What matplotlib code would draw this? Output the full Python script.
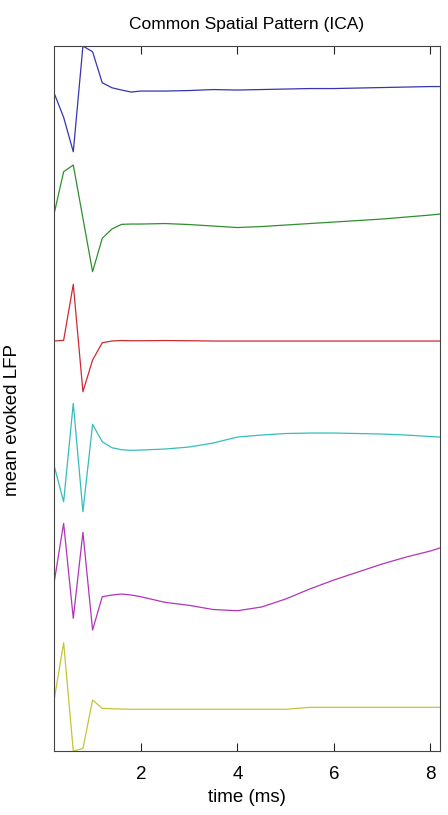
import numpy as np
import matplotlib
matplotlib.use("Agg")
import matplotlib.pyplot as plt

plt.rcParams["font.family"] = ["Liberation Sans", "DejaVu Sans"]

# sample times (ms)
time_ms = [0.2, 0.4, 0.6, 0.8, 1.0, 1.2, 1.4, 1.6, 1.8, 2.0,
           2.5, 3.0, 3.5, 4.0, 4.5, 5.0, 5.5, 6.0, 6.5, 7.0, 7.5, 8.0, 8.2]

# mean evoked LFP of each ICA component (a.u.)
comp_1 = [-2.7, -27.3, -61.7, 44.0, 38.3, 7.3, 2.3, 0.0, -2.0, -1.0,
          -1.0, -0.5, 0.5, 0.0, 0.5, 1.0, 1.5, 1.5, 2.0, 2.5, 3.0, 3.5, 3.5]
comp_2 = [9.7, 52.3, 59.0, 5.7, -47.7, -14.3, -5.0, -0.3, 0.0, 0.0,
          0.5, -0.5, -2.0, -3.5, -2.5, -1.0, 0.5, 2.0, 3.5, 5.0, 7.0, 9.0, 10.0]
comp_3 = [0.0, 0.7, 56.7, -50.7, -19.0, -1.7, 0.0, 0.5, 0.3, 0.3,
          0.5, 0.3, 0.0, 0.0, 0.0, 0.0, 0.0, 0.0, 0.0, 0.0, 0.0, 0.0, 0.0]
comp_4 = [-15.0, -51.7, 46.7, -61.7, 25.7, 8.3, 2.3, 0.3, -0.3, 0.0,
          1.0, 3.0, 7.0, 13.0, 15.0, 16.5, 17.0, 17.0, 16.5, 16.0, 15.0, 13.5, 13.0]
comp_5 = [13.7, 73.7, -21.3, 64.7, -33.0, 0.3, 2.0, 3.0, 2.0, 0.3,
          -5.3, -8.3, -12.5, -13.7, -10.0, -2.0, 8.0, 17.0, 25.0, 33.0, 40.0, 46.0, 49.0]
comp_6 = [8.3, 66.3, -42.0, -39.5, 9.0, 0.7, 0.3, 0.0, -0.3, -0.3,
          -0.3, -0.3, -0.3, -0.3, -0.3, -0.3, 1.7, 1.7, 1.7, 1.7, 1.7, 1.7, 1.7]

components = [comp_1, comp_2, comp_3, comp_4, comp_5, comp_6]
# vertical offset for stacking the traces
offsets = [90, 224, 341, 450, 597, 709]
colors = ["#3535b0", "#2f8f2f", "#cc2a35", "#35bcbc", "#b035b8", "#c4c43a"]

fig = plt.figure(figsize=(4.48, 8.15), dpi=100)
ax = fig.add_axes([0.1205, 0.0785, 0.8616, 0.865])

t = np.array(time_ms)
all_y = []
for comp, off, col in zip(components, offsets, colors):
    y = np.array(comp) - off
    all_y.append(y)
    ax.plot(t, y, color=col, linewidth=0.9)

all_y = np.concatenate(all_y)
ax.set_xlim(0.2, 8.2)
ax.set_ylim(all_y.min(), all_y.max())

ax.set_xticks([2, 4, 6, 8])
ax.set_yticks([])
ax.tick_params(axis="x", direction="in", length=6, width=0.8, top=True,
               labelsize=13.5, pad=11, color="#222222")
for s in ax.spines.values():
    s.set_color("#444444")
    s.set_linewidth(0.8)

ax.set_xlabel("time (ms)", fontsize=13.5, labelpad=4)
ax.set_ylabel("mean evoked LFP", fontsize=13.5)
ax.yaxis.set_label_coords(-0.085, 0.47)
ax.set_title("Common Spatial Pattern (ICA)", fontsize=12.5, pad=12)

fig.savefig("out.png", dpi=100)
